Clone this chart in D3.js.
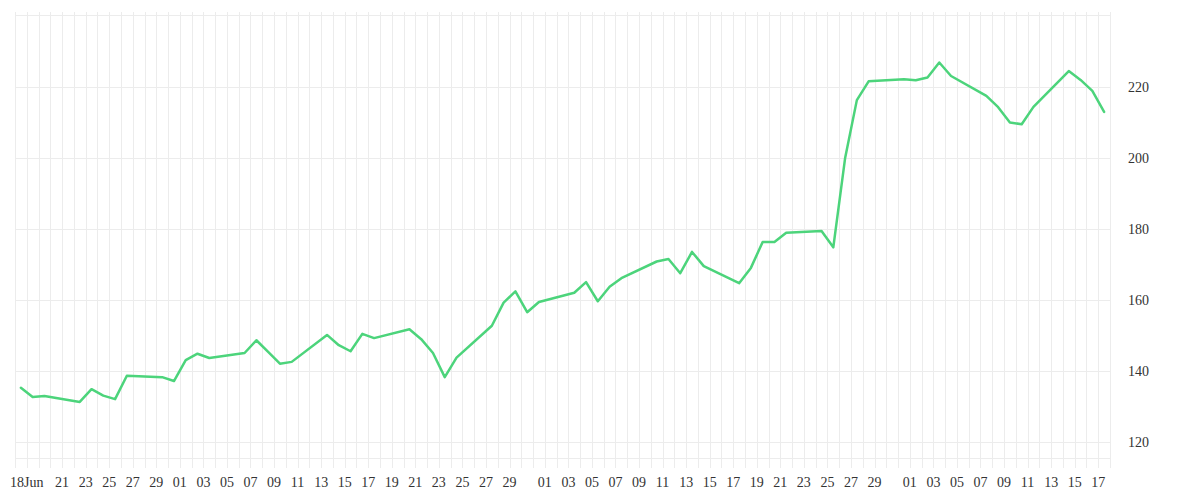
<!DOCTYPE html>
<html>
<head>
<meta charset="utf-8">
<script src="https://cdn.jsdelivr.net/npm/d3@7"></script>
<style>
  html, body { margin: 0; padding: 0; background: #fff; }
  .grid line { stroke: #ececec; stroke-width: 1; shape-rendering: crispEdges; }
  .tick-label { font-family: "Liberation Serif", "DejaVu Serif", serif; font-size: 14px; fill: #333; }
  .price-line { fill: none; stroke: #4cd47b; stroke-width: 2.5; stroke-linejoin: round; stroke-linecap: round; }
</style>
</head>
<body>
<svg id="chart" width="1200" height="500"></svg>
<script>
// daily closes
const dates = [
  "2020-06-17", "2020-06-18", "2020-06-19", "2020-06-22", "2020-06-23", "2020-06-24",
  "2020-06-25", "2020-06-26", "2020-06-29", "2020-06-30", "2020-07-01", "2020-07-02",
  "2020-07-03", "2020-07-06", "2020-07-07", "2020-07-08", "2020-07-09", "2020-07-10",
  "2020-07-13", "2020-07-14", "2020-07-15", "2020-07-16", "2020-07-17", "2020-07-20",
  "2020-07-21", "2020-07-22", "2020-07-23", "2020-07-24", "2020-07-27", "2020-07-28",
  "2020-07-29", "2020-07-30", "2020-07-31", "2020-08-03", "2020-08-04", "2020-08-05",
  "2020-08-06", "2020-08-07", "2020-08-10", "2020-08-11", "2020-08-12", "2020-08-13",
  "2020-08-14", "2020-08-17", "2020-08-18", "2020-08-19", "2020-08-20", "2020-08-21",
  "2020-08-24", "2020-08-25", "2020-08-26", "2020-08-27", "2020-08-28", "2020-08-31",
  "2020-09-01", "2020-09-02", "2020-09-03", "2020-09-04", "2020-09-07", "2020-09-08",
  "2020-09-09", "2020-09-10", "2020-09-11", "2020-09-14", "2020-09-15", "2020-09-16",
  "2020-09-17",
];

const closes = [
  135.3, 132.7, 133.0, 131.3, 134.9, 133.1,
  132.1, 138.7, 138.3, 137.2, 143.1, 144.9,
  143.7, 145.1, 148.7, 145.4, 142.1, 142.6,
  150.2, 147.3, 145.6, 150.5, 149.3, 151.8,
  149.0, 145.1, 138.3, 143.8, 152.8, 159.3,
  162.5, 156.6, 159.5, 162.1, 165.1, 159.7,
  163.8, 166.2, 170.9, 171.6, 167.6, 173.6,
  169.6, 164.8, 169.1, 176.4, 176.4, 179.0,
  179.5, 174.9, 200.0, 216.4, 221.7, 222.3,
  222.0, 222.8, 227.0, 223.2, 217.6, 214.4,
  210.1, 209.6, 214.5, 224.6, 222.1, 219.0,
  213.1,
];

const yTicks = [120, 140, 160, 180, 200, 220];
const xStart = "2020-06-17";
const xEnd = "2020-09-18";
const firstTick = "2020-06-18";

const W = 1200, H = 500;
const margin = { top: 15, right: 90, bottom: 42, left: 15 };

const parse = d3.timeParse("%Y-%m-%d");
// each close sits at mid-day of its date
const points = dates.map((d, i) => ({ date: d3.timeHour.offset(parse(d), 12), value: closes[i] }));

const x = d3.scaleTime()
  .domain([parse(xStart), parse(xEnd)])
  .range([margin.left, W - margin.right]);

const y = d3.scaleLinear()
  .domain([115.5, 240.4])
  .range([H - margin.bottom, margin.top]);

const svg = d3.select("#chart");
const grid = svg.append("g").attr("class", "grid");

// one vertical rule per day, poking a little past the plot box
grid.selectAll("line.v")
  .data(d3.timeDay.range(parse(xStart), d3.timeDay.offset(parse(xEnd), 1)))
  .join("line")
  .attr("class", "v")
  .attr("x1", (d) => Math.round(x(d)) + 0.5)
  .attr("x2", (d) => Math.round(x(d)) + 0.5)
  .attr("y1", margin.top - 3)
  .attr("y2", H - margin.bottom + 10);

grid.selectAll("line.h")
  .data([...y.domain(), ...yTicks])
  .join("line")
  .attr("class", "h")
  .attr("x1", margin.left)
  .attr("x2", W - margin.right)
  .attr("y1", (d) => Math.round(y(d)) + 0.5)
  .attr("y2", (d) => Math.round(y(d)) + 0.5);

// y labels on the right
svg.append("g")
  .selectAll("text")
  .data(yTicks)
  .join("text")
  .attr("class", "tick-label")
  .attr("x", W - margin.right + 18)
  .attr("y", (d) => y(d))
  .attr("dy", "0.35em")
  .text((d) => d);

// x labels: first day with month, then odd days (31st dropped)
const xTicks = [parse(firstTick)].concat(
  d3.timeDay.every(2)
    .range(d3.timeDay.offset(parse(firstTick), 3), parse(xEnd))
    .filter((d) => d.getDate() !== 31)
);
const fmtFirst = d3.timeFormat("%d%b");
const fmtDay = d3.timeFormat("%d");

svg.append("g")
  .selectAll("text")
  .data(xTicks)
  .join("text")
  .attr("class", "tick-label")
  .attr("text-anchor", "middle")
  .attr("x", (d) => x(d))
  .attr("y", H - 13)
  .text((d, i) => (i === 0 ? fmtFirst(d) : fmtDay(d)));

const line = d3.line()
  .x((d) => x(d.date))
  .y((d) => y(d.value));

svg.append("path")
  .datum(points)
  .attr("class", "price-line")
  .attr("d", line);
</script>
</body>
</html>
